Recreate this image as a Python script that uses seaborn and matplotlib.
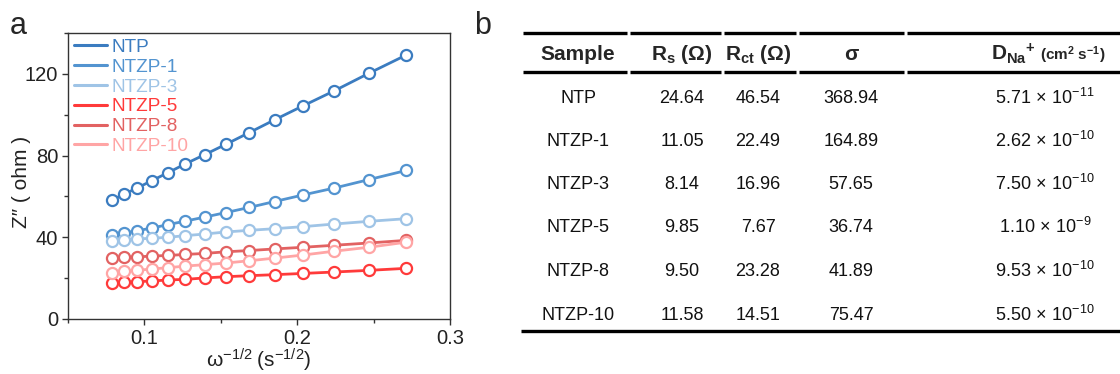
import numpy as np
import pandas as pd
import matplotlib
matplotlib.use("Agg")
import matplotlib.pyplot as plt
from matplotlib.lines import Line2D
import seaborn as sns

# ---------------- data ----------------
x_vals = [0.0789, 0.0867, 0.0952, 0.1048, 0.1154, 0.1267, 0.1396, 0.1533,
          0.1685, 0.1852, 0.2037, 0.2243, 0.2467, 0.2713]
ntp = [58.3, 61.1, 64.1, 67.7, 71.6, 75.9, 80.5, 85.5, 91.2, 97.5, 104.3, 111.7, 120.2, 129.2]
ntzp1 = [41.0, 42.1, 43.2, 44.5, 46.2, 47.9, 49.9, 52.1, 54.6, 57.5, 60.7, 64.1, 68.2, 72.7]
ntzp3 = [38.4, 38.9, 39.2, 39.5, 40.0, 40.8, 41.6, 42.6, 43.4, 44.2, 45.2, 46.5, 47.8, 49.1]
ntzp5 = [17.8, 18.0, 18.3, 18.6, 19.1, 19.4, 20.1, 20.7, 21.2, 21.7, 22.3, 23.0, 23.8, 24.8]
ntzp8 = [30.1, 30.3, 30.4, 30.8, 31.1, 31.6, 32.1, 32.9, 33.5, 34.3, 35.1, 36.1, 37.2, 38.5]
ntzp10 = [22.7, 23.3, 23.8, 24.5, 25.1, 25.9, 26.6, 27.4, 28.5, 29.8, 31.3, 33.2, 35.1, 37.6]

samples = ["NTP", "NTZP-1", "NTZP-3", "NTZP-5", "NTZP-8", "NTZP-10"]
series = [ntp, ntzp1, ntzp3, ntzp5, ntzp8, ntzp10]
colors = ["#3b7cc0", "#5394d0", "#9fc4e6", "#ff3a3a", "#e26262", "#ffa5a5"]

rs_vals = ["24.64", "11.05", "8.14", "9.85", "9.50", "11.58"]
rct_vals = ["46.54", "22.49", "16.96", "7.67", "23.28", "14.51"]
sigma_vals = ["368.94", "164.89", "57.65", "36.74", "41.89", "75.47"]
d_mant = ["5.71", "2.62", "7.50", "1.10", "9.53", "5.50"]
d_exp = ["-11", "-10", "-10", "-9", "-10", "-10"]

# ---------------- style ----------------
sns.set_theme(style="ticks")
plt.rcParams["font.family"] = ["Liberation Sans", "DejaVu Sans"]
plt.rcParams["mathtext.fontset"] = "custom"
plt.rcParams["mathtext.rm"] = "Liberation Sans"
plt.rcParams["mathtext.it"] = "Liberation Sans"
plt.rcParams["mathtext.bf"] = "Liberation Sans:bold"
plt.rcParams["mathtext.default"] = "regular"

W, H = 1120, 374
fig = plt.figure(figsize=(W / 100, H / 100), dpi=100)

# ---------------- panel a ----------------
ax = fig.add_axes([68 / W, 1 - 319 / H, (450 - 68) / W, (319 - 33) / H])
df = pd.DataFrame({
    "x": np.tile(x_vals, len(samples)),
    "z": np.concatenate(series),
    "sample": np.repeat(samples, len(x_vals)),
})
sns.lineplot(data=df, x="x", y="z", hue="sample", hue_order=samples,
             palette=colors, marker="o", markersize=8, markerfacecolor="white",
             markeredgewidth=1.6, linewidth=2.0, legend=False, ax=ax)
for ln, c in zip(ax.lines, colors):
    ln.set_markeredgecolor(c)

ax.set_xlim(0.05, 0.3)
ax.set_ylim(0, 140)
ax.set_xticks([0.1, 0.2, 0.3])
ax.set_xticklabels(["0.1", "0.2", "0.3"])
ax.set_xticks([0.05, 0.15, 0.25], minor=True)
ax.set_yticks([0, 40, 80, 120])
ax.set_yticks([20, 60, 100, 140], minor=True)
ax.tick_params(axis="both", which="major", labelsize=14.5, length=4, width=1,
               color="#333333", labelcolor="#222222", direction="out", pad=3)
ax.tick_params(axis="both", which="minor", length=3, width=1, color="#333333")
for sp in ax.spines.values():
    sp.set_color("#333333")
    sp.set_linewidth(1.0)
ax.set_xlabel(r"$\omega^{-1/2}\;(\mathrm{s}^{-1/2})$", fontsize=15, color="#222222")
ax.xaxis.set_label_coords(0.5, -0.098)
ax.xaxis.label.set_va("top")
ax.set_ylabel("Z\u2033 ( ohm )", fontsize=15, color="#222222")
ax.yaxis.set_label_coords(-0.098, 0.48)

handles = [Line2D([0], [0], color=c, lw=2.2) for c in colors]
leg = ax.legend(handles, samples, loc="upper left", frameon=False, fontsize=13.7,
                handlelength=1.75, handletextpad=0.25, labelspacing=0.13,
                borderaxespad=0.0, borderpad=0.3, bbox_to_anchor=(0.0, 1.0))
for t, c in zip(leg.get_texts(), colors):
    t.set_color(c)

fig.text(18 / W, 1 - 26 / H, "a", fontsize=22, ha="center", va="center")
fig.text(483 / W, 1 - 26 / H, "b", fontsize=22, ha="center", va="center")

# ---------------- panel b (table) ----------------
tab = fig.add_axes([0, 0, 1, 1], zorder=-1)
tab.set_xlim(0, W)
tab.set_ylim(H, 0)
tab.axis("off")

col_edges = [521, 628, 722, 797, 905, 1185]
col_centers = [578, 682, 758, 851, 1045]
gap = 1.5
for yrule in (33, 72):
    for a, b in zip(col_edges[:-1], col_edges[1:]):
        tab.plot([a + gap, b - gap], [yrule, yrule], color="black", lw=2.4,
                 solid_capstyle="butt")
tab.plot([col_edges[0], W + 5], [331, 331], color="black", lw=2.4, solid_capstyle="butt")

hy = 54
hs = 15
tab.text(col_centers[0], hy, "Sample", fontsize=hs, fontweight="bold", ha="center", va="center")
tab.text(col_centers[1], hy, r"$\mathbf{R_{s}}$ (Ω)", fontsize=hs, fontweight="bold", ha="center", va="center")
tab.text(col_centers[2], hy, r"$\mathbf{R_{ct}}$ (Ω)", fontsize=hs, fontweight="bold", ha="center", va="center")
tab.text(col_centers[3], hy, "σ", fontsize=hs, fontweight="bold", ha="center", va="center")
tab.text(1036, hy, r"$\mathbf{D_{Na}{}^{+}}$", fontsize=hs, fontweight="bold", ha="right", va="center")
tab.text(1040, hy + 1, r"(cm$^{\mathbf{2}}$ s$^{\mathbf{-1}}$)", fontsize=11, fontweight="bold", ha="left", va="center")

row_y = [98, 141, 184, 227, 271, 315]
vs = 13
for i, yv in enumerate(row_y):
    tab.text(col_centers[0], yv, samples[i], fontsize=vs, ha="center", va="center", color="#111111")
    tab.text(col_centers[1], yv, rs_vals[i], fontsize=vs, ha="center", va="center", color="#111111")
    tab.text(col_centers[2], yv, rct_vals[i], fontsize=vs, ha="center", va="center", color="#111111")
    tab.text(col_centers[3], yv, sigma_vals[i], fontsize=vs, ha="center", va="center", color="#111111")
    tab.text(col_centers[4], yv, d_mant[i] + r"$\,\times\,$10$^{" + d_exp[i] + "}$",
             fontsize=vs, ha="center", va="center", color="#111111")

fig.savefig("out.png", dpi=100)
